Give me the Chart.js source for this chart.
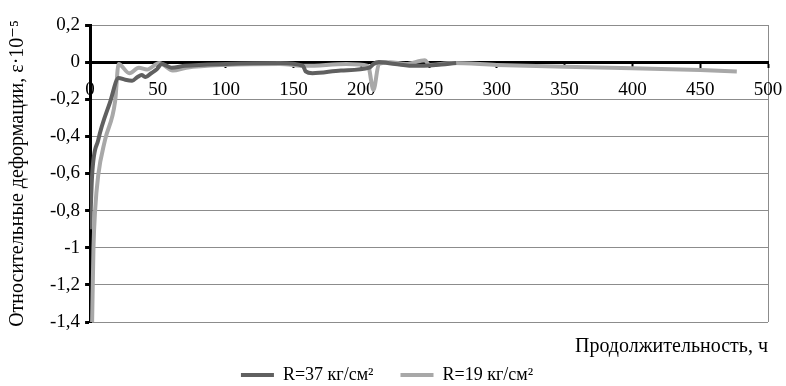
<!DOCTYPE html>
<html>
<head>
<meta charset="utf-8">
<script src="https://cdn.jsdelivr.net/npm/chart.js@4"></script>
<style>
  html, body { margin: 0; padding: 0; background: #fff; }
  #wrap { width: 786px; height: 386px; }
</style>
</head>
<body>
<div id="wrap"><canvas id="linechart"></canvas></div>
<script>
// time, h
var hours37 = [0, 1.5, 6, 15, 21, 26, 31, 35, 38, 41, 45, 49, 53, 60, 70, 100, 140, 157, 159, 164, 185, 206, 209, 213, 225, 240, 255, 270];
var strain37 = [-0.9, -0.61, -0.42, -0.21, -0.085, -0.095, -0.1, -0.08, -0.07, -0.08, -0.06, -0.04, -0.01, -0.03, -0.02, -0.01, -0.005, -0.02, -0.05, -0.06, -0.045, -0.03, -0.01, 0, -0.01, -0.02, -0.015, -0.005];

var hours19 = [1.5, 2.5, 3.7, 6, 11, 18.5, 21, 29, 36, 42, 51, 61, 71, 100, 140, 159, 189, 205, 209, 213, 221, 233, 247, 250, 267, 300, 350, 400, 450, 477];
var strain19 = [-1.4, -1.0, -0.8, -0.61, -0.42, -0.21, -0.01, -0.06, -0.03, -0.04, -0.005, -0.045, -0.03, -0.015, -0.01, -0.02, -0.01, -0.02, -0.15, -0.01, 0, -0.01, 0.01, -0.015, -0.005, -0.015, -0.025, -0.033, -0.043, -0.05];

var seriesNames = ['R=37 кг/см²', 'R=19 кг/см²'];

function toPoints(xs, ys) {
    return xs.map(function (x, i) { return { x: x, y: ys[i] }; });
}
function comma(v) {
    return String(Math.round(v * 10) / 10).replace('.', ',');
}

var serif = "'Liberation Serif', 'DejaVu Serif', serif";
var chart1 = document.getElementById("linechart");

var myChart1 = new Chart(chart1, {
type: 'line',
data: {
    datasets: [{
        label: seriesNames[0],
        data: toPoints(hours37, strain37),
        borderColor: "#606060",
        backgroundColor: "#606060",
        borderWidth: 4,
        pointRadius: 0,
        cubicInterpolationMode: 'monotone',
        fill: false
    }, {
        label: seriesNames[1],
        data: toPoints(hours19, strain19),
        borderColor: "#a8a8a8",
        backgroundColor: "#a8a8a8",
        borderWidth: 4,
        pointRadius: 0,
        cubicInterpolationMode: 'monotone',
        fill: false
    }]
},
options: {
    responsive: true,
    maintainAspectRatio: false,
    animation: false,
    layout: {
        padding: { left: 6, right: 18, top: 25, bottom: 0 }
    },
    scales: {
        x: {
            type: 'linear',
            position: { y: 0 },
            min: 0,
            max: 500,
            afterFit: function (s) { s.paddingLeft = 0; s.paddingRight = 0; },
            ticks: {
                stepSize: 50,
                maxRotation: 0,
                padding: 12,
                color: '#000',
                font: { family: serif, size: 19 }
            },
            border: { display: true, color: '#000', width: 3 },
            grid: {
                drawOnChartArea: true,
                color: function (c) { return c.tick && c.tick.value === 500 ? '#8c8c8c' : 'rgba(0,0,0,0)'; },
                tickColor: '#000',
                tickLength: 4,
                tickWidth: 2
            }
        },
        y: {
            min: -1.4,
            max: 0.2,
            ticks: {
                stepSize: 0.2,
                padding: 5,
                color: '#000',
                font: { family: serif, size: 19 },
                callback: function (v) { return comma(v); }
            },
            border: { display: true, color: '#000', width: 3 },
            grid: {
                color: '#8c8c8c',
                tickColor: '#000',
                tickLength: 5,
                tickWidth: 3
            },
            title: {
                display: true,
                text: 'Относительные деформации, ε·10⁻⁵',
                color: '#000',
                font: { family: serif, size: 20 },
                padding: { top: 0, bottom: 15 }
            }
        }
    },
    plugins: {
        legend: {
            display: true,
            position: 'bottom',
            weight: 3000,
            maxHeight: 47,
            labels: {
                usePointStyle: true,
                pointStyle: 'line',
                pointStyleWidth: 33,
                boxWidth: 33,
                padding: 27,
                color: '#000',
                font: { family: serif, size: 18 }
            }
        },
        title: {
            display: true,
            text: 'Продолжительность, ч',
            position: 'bottom',
            align: 'end',
            color: '#000',
            font: { family: serif, size: 20, weight: 'normal' },
            padding: { top: 13, bottom: -20 }
        },
        tooltip: { enabled: false }
    }
}
});
</script>
</body>
</html>
